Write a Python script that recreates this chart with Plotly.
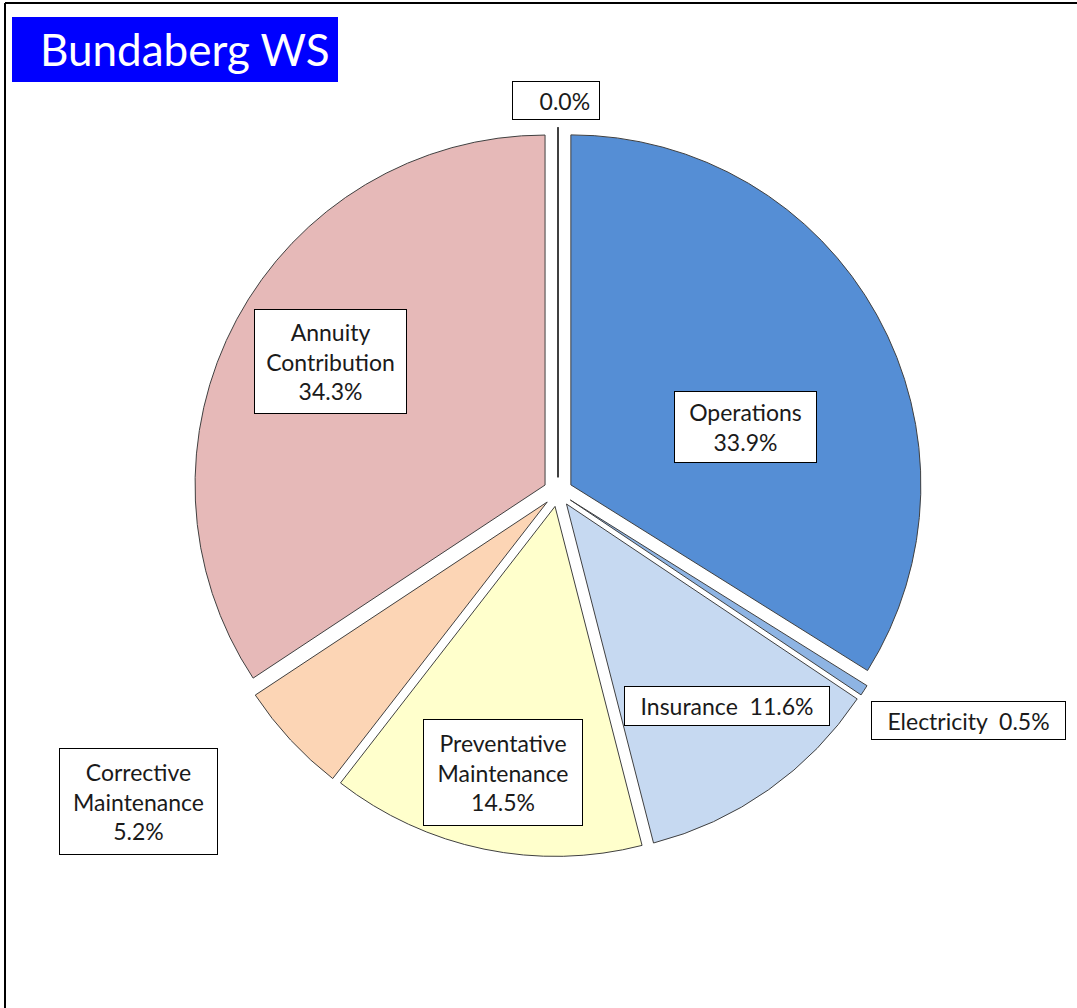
import plotly.graph_objects as go

# ---- data ----
categories = ["Operations", "Electricity", "Insurance", "Preventative Maintenance",
              "Corrective Maintenance", "Annuity Contribution", "Other"]
values = [33.9, 0.5, 11.6, 14.5, 5.2, 34.3, 0.0]
label_texts = ["Operations<br>33.9%", "Electricity\u00a0 0.5%", "Insurance\u00a0 11.6%",
               "Preventative<br>Maintenance<br>14.5%", "Corrective<br>Maintenance<br>5.2%",
               "Annuity<br>Contribution<br>34.3%", "\u00a0\u00a0 0.0%"]
title_text = "Bundaberg WS"

# ---- style / layout ----
colors = ["#558ED5", "#8EB4E3", "#C6D9F1", "#FFFFCC", "#FCD5B5", "#E6B9B8", "#FFFFFF"]
W, H = 1077, 1008
CX, CY, R = 558, 492, 350          # pie centre / radius in pixels
PULL = 0.042
FONT = "Lato, 'Open Sans', sans-serif"

# label box centres (pixels) and sizes
label_boxes = [
    (745, 427, 143, 72),
    (968, 720, 195, 39),
    (727, 706, 206, 40),
    (503, 772, 160, 107),
    (138, 801, 159, 107),
    (330, 361, 153, 105),
    (556, 101, 88, 39),
]

half = R * (1 + PULL)
dom_x = [(CX - half) / W, (CX + half) / W]
dom_y = [1 - (CY + half) / H, 1 - (CY - half) / H]

fig = go.Figure(go.Pie(
    labels=categories, values=values, sort=False, direction="clockwise", rotation=0,
    pull=[PULL] * len(values), textinfo="none", hoverinfo="label+percent",
    marker=dict(colors=colors, line=dict(color="#404040", width=1)),
    domain=dict(x=dom_x, y=dom_y), showlegend=False,
))

annotations = []
for txt, (bx, by, bw, bh) in zip(label_texts, label_boxes):
    annotations.append(dict(
        x=bx / W, y=1 - by / H, xref="paper", yref="paper", text=txt, showarrow=False,
        xanchor="center", yanchor="middle", width=bw - 2, height=bh - 2, borderpad=0,
        bgcolor="white", bordercolor="#000000", borderwidth=1, align="center",
        font=dict(family=FONT, size=23, color="#1a1a1a"),
    ))
# title: blue box with text right-aligned inside
annotations.append(dict(
    x=12 / W, y=1 - 17 / H, xref="paper", yref="paper", text="", showarrow=False,
    xanchor="left", yanchor="top", width=326, height=65, borderpad=0, bgcolor="#0000FF",
    borderwidth=0, font=dict(family=FONT, size=44, color="white"),
))
annotations.append(dict(
    x=331 / W, y=1 - 49 / H, xref="paper", yref="paper", text=title_text, showarrow=False,
    xanchor="right", yanchor="middle", borderpad=0,
    font=dict(family=FONT, size=44, color="white"),
))

shapes = [
    # zero-value slice edge (pulled upward)
    dict(type="line", xref="paper", yref="paper",
         x0=CX / W, x1=CX / W, y0=1 - (CY - PULL * R) / H, y1=1 - (CY - PULL * R - R) / H,
         line=dict(color="#404040", width=2)),
    # outer frame (top and left edges)
    dict(type="line", xref="paper", yref="paper", x0=5 / W, x1=1, y0=1 - 3 / H, y1=1 - 3 / H,
         line=dict(color="#000000", width=2)),
    dict(type="line", xref="paper", yref="paper", x0=5 / W, x1=5 / W, y0=0, y1=1 - 3 / H,
         line=dict(color="#000000", width=2)),
]

fig.update_layout(
    width=W, height=H, margin=dict(l=0, r=0, t=0, b=0),
    paper_bgcolor="white", plot_bgcolor="white",
    annotations=annotations, shapes=shapes,
)
fig.write_html("out.html", config={"displayModeBar": False},
               post_script="document.body.style.margin='0';")
